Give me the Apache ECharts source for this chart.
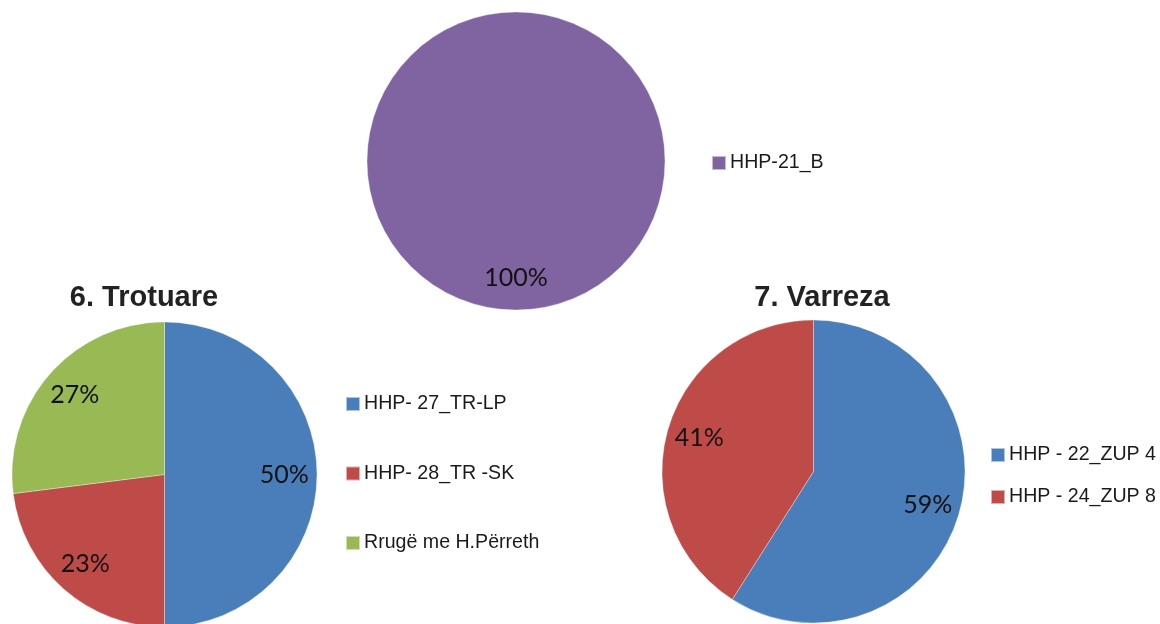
<!DOCTYPE html>
<html>
<head>
<meta charset="utf-8">
<script src="https://cdn.jsdelivr.net/npm/echarts@6/dist/echarts.min.js"></script>
<style>
html,body{margin:0;padding:0;background:#fff;}
#c{width:1160px;height:624px;}
</style>
</head>
<body>
<div id="c"></div>
<script>
// ---- data ----
var topNames = ['HHP-21_B'];
var topValues = [100];
var topColors = ['#8064A2'];

var trotTitle = '6. Trotuare';
var trotNames = ['HHP- 27_TR-LP', 'HHP- 28_TR -SK', 'Rrugë me H.Përreth'];
var trotValues = [50, 23, 27];
var trotColors = ['#4A7EBB', '#BE4B48', '#98B954'];

var varrTitle = '7. Varreza';
var varrNames = ['HHP - 22_ZUP 4', 'HHP - 24_ZUP 8'];
var varrValues = [59, 41];
var varrColors = ['#4A7EBB', '#BE4B48'];

function mk(names, values, colors) {
  return names.map(function (n, i) {
    return { name: n, value: values[i], itemStyle: { color: colors[i] } };
  });
}
function mkPlain(names, values) {
  return names.map(function (n, i) { return { name: n, value: values[i] }; });
}

var labelStyle = {
  show: true, position: 'inside', formatter: '{d}%',
  fontFamily: 'Lato', fontSize: 25, color: '#111'
};

function pieMain(center, r, data) {
  return {
    type: 'pie', center: center, radius: [0, r], data: data,
    startAngle: 90, clockwise: true, silent: true, animation: false,
    percentPrecision: 0,
    label: { show: false }, labelLine: { show: false },
    itemStyle: { borderColor: 'rgba(255,255,255,0.55)', borderWidth: 0.6 },
    emphasis: { disabled: true }
  };
}
function pieLabels(center, r, data) {
  return {
    type: 'pie', center: center, radius: [r * 0.53, r], data: data,
    startAngle: 90, clockwise: true, silent: true, animation: false,
    percentPrecision: 0, legendHoverLink: false,
    label: labelStyle, labelLine: { show: false },
    itemStyle: { color: 'rgba(0,0,0,0)', borderWidth: 0 },
    emphasis: { disabled: true }
  };
}

var legendText = { fontFamily: 'Liberation Sans, Arial', fontSize: 19.6, color: '#1a1a1a', lineHeight: 20, padding: [0, 0, 0, -1] };
var titleText = { fontFamily: 'Liberation Sans, Arial', fontSize: 29, fontWeight: 'bold', color: '#222' };

var chart = echarts.init(document.getElementById('c'));
chart.setOption({
  backgroundColor: '#fff',
  animation: false,
  title: [
    { text: trotTitle, left: 144, top: 283, textAlign: 'center', padding: 0, textStyle: titleText },
    { text: varrTitle, left: 822, top: 283, textAlign: 'center', padding: 0, textStyle: titleText }
  ],
  legend: [
    { data: topNames, orient: 'vertical', left: 711, top: 153, padding: 0,
      itemWidth: 14, itemHeight: 14, itemGap: 10, icon: 'rect', selectedMode: false, textStyle: legendText },
    { data: trotNames, orient: 'vertical', left: 345, top: 394, padding: 0,
      itemWidth: 14, itemHeight: 14, itemGap: 49.5, icon: 'rect', selectedMode: false, textStyle: legendText },
    { data: varrNames, orient: 'vertical', left: 990, top: 445, padding: 0,
      itemWidth: 14, itemHeight: 14, itemGap: 22, icon: 'rect', selectedMode: false, textStyle: legendText }
  ],
  series: [
    pieMain([516, 161], 149, mk(topNames, topValues, topColors)),
    pieMain([164.5, 474.5], 152.5, mk(trotNames, trotValues, trotColors)),
    pieMain([813.5, 471.5], 151.5, mk(varrNames, varrValues, varrColors)),
    pieLabels([516, 161], 149, mkPlain(topNames, topValues)),
    pieLabels([164.5, 474.5], 152.5, mkPlain(trotNames, trotValues)),
    pieLabels([813.5, 471.5], 151.5, mkPlain(varrNames, varrValues))
  ]
});
</script>
</body>
</html>
